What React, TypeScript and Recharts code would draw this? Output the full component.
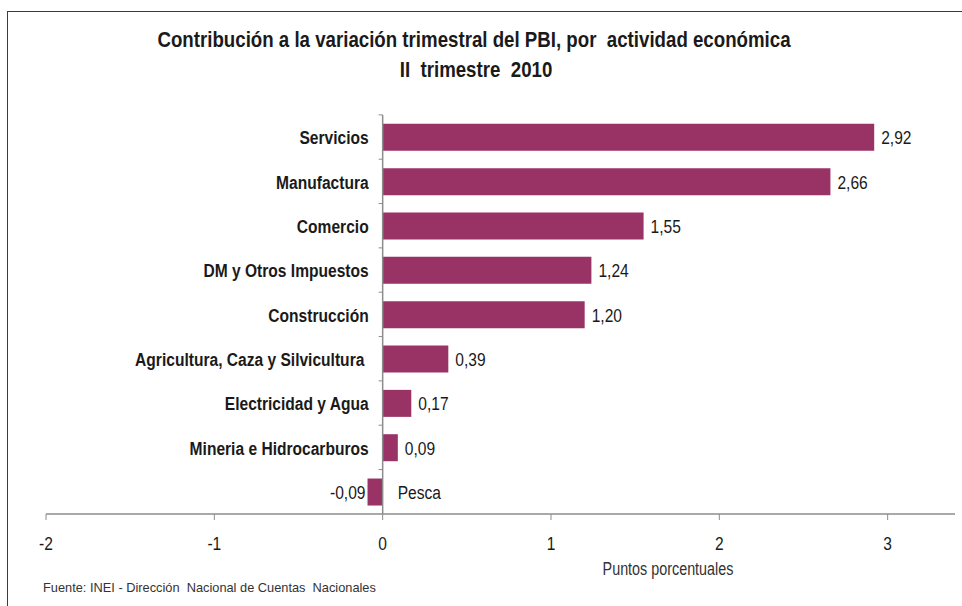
import React from "react";
import { BarChart, Bar, XAxis, YAxis, ReferenceLine, LabelList } from "recharts";

const categories = [
  "Servicios",
  "Manufactura",
  "Comercio",
  "DM y Otros Impuestos",
  "Construcción",
  "Agricultura, Caza y Silvicultura ",
  "Electricidad y Agua",
  "Mineria e Hidrocarburos",
  "Pesca",
];
const values = [2.92, 2.66, 1.55, 1.24, 1.2, 0.39, 0.17, 0.09, -0.09];
const xTicks = [-2, -1, 0, 1, 2, 3];
const xDomain = [-2, 3.4];

const titleLines = [
  "Contribución a la variación trimestral del PBI, por  actividad económica",
  "II  trimestre  2010",
];
const axisTitle = "Puntos porcentuales";
const sourceNote = "Fuente: INEI - Dirección  Nacional de Cuentas  Nacionales";

const data = categories.map((name, i) => ({ name, value: values[i] }));

const FONT = "'Liberation Sans', Arial, sans-serif";
const NARROW = 0.82;
const BAR_COLOR = "#993366";
const AXIS_COLOR = "#8c8c8c";
const TEXT_COLOR = "#1a1a1a";

const fmt = (v: number) => v.toFixed(2).replace(".", ",");

type NTProps = {
  x: number;
  y: number;
  anchor?: "start" | "middle" | "end";
  size: number;
  bold?: boolean;
  fill?: string;
  children: React.ReactNode;
};

const NarrowText = ({ x, y, anchor = "start", size, bold, fill = TEXT_COLOR, children }: NTProps) => (
  <text
    transform={`translate(${x},${y}) scale(${NARROW},1)`}
    x={0}
    y={0}
    textAnchor={anchor}
    fontFamily={FONT}
    fontSize={size}
    fontWeight={bold ? "bold" : "normal"}
    fill={fill}
    style={{ whiteSpace: "pre" }}
  >
    {children}
  </text>
);

const BarLabels = (props: any) => {
  const { x, y, width, height, index } = props;
  const v = values[index];
  const left = Math.min(x, x + width);
  const right = Math.max(x, x + width);
  const zeroX = v >= 0 ? left : right;
  const base = y + height / 2 + 7;
  const bandTop = y - height / 3;
  return (
    <g>
      <line x1={zeroX - 4} x2={zeroX} y1={bandTop} y2={bandTop} stroke={AXIS_COLOR} strokeWidth={1} />
      <NarrowText
        x={v >= 0 ? zeroX - 14 : zeroX + 15}
        y={base}
        anchor={v >= 0 ? "end" : "start"}
        size={19}
        bold={v >= 0}
      >
        {categories[index]}
      </NarrowText>
      <NarrowText x={v >= 0 ? right + 7 : left - 2} y={base} anchor={v >= 0 ? "start" : "end"} size={19}>
        {fmt(v)}
      </NarrowText>
    </g>
  );
};

const XTick = (props: any) => {
  const { x, y, payload } = props;
  return (
    <NarrowText x={x} y={y + 16} anchor="middle" size={19}>
      {String(payload.value)}
    </NarrowText>
  );
};

export default function App() {
  return (
    <div
      style={{
        position: "absolute",
        left: 0,
        top: 0,
        width: 962,
        height: 606,
        overflow: "hidden",
        background: "#ffffff",
        fontFamily: FONT,
      }}
    >
      <div
        style={{
          position: "absolute",
          left: 7,
          top: 11,
          width: 1000,
          height: 700,
          border: "1px solid #3c3c3c",
          boxSizing: "border-box",
        }}
      />
      <div style={{ position: "absolute", left: 0, top: 0 }}>
        <BarChart
          width={962}
          height={606}
          data={data}
          layout="vertical"
          margin={{ top: 115, right: 7, bottom: 0, left: 46 }}
          barCategoryGap="20%"
        >
          <XAxis
            type="number"
            domain={xDomain}
            ticks={xTicks}
            allowDataOverflow
            height={92}
            axisLine={{ stroke: AXIS_COLOR, strokeWidth: 1.5 }}
            tickLine={{ stroke: AXIS_COLOR }}
            tickSize={6}
            tickMargin={14}
            tick={<XTick />}
          />
          <YAxis type="category" dataKey="name" hide />
          <ReferenceLine x={0} stroke={AXIS_COLOR} strokeWidth={1.5} />
          <Bar dataKey="value" fill={BAR_COLOR} isAnimationActive={false}>
            <LabelList dataKey="value" content={<BarLabels />} />
          </Bar>
        </BarChart>
      </div>
      <svg
        width={962}
        height={606}
        style={{ position: "absolute", left: 0, top: 0, pointerEvents: "none" }}
      >
        <NarrowText x={474} y={47} anchor="middle" size={22.8} bold>
          {titleLines[0]}
        </NarrowText>
        <NarrowText x={476} y={77} anchor="middle" size={22.8} bold>
          {titleLines[1]}
        </NarrowText>
        <NarrowText x={668} y={575} anchor="middle" size={17.5} fill="#333333">
          {axisTitle}
        </NarrowText>
        <text x={43} y={592} fontFamily={FONT} fontSize={12.8} fill="#333333" style={{ whiteSpace: "pre" }}>
          {sourceNote}
        </text>
      </svg>
    </div>
  );
}
